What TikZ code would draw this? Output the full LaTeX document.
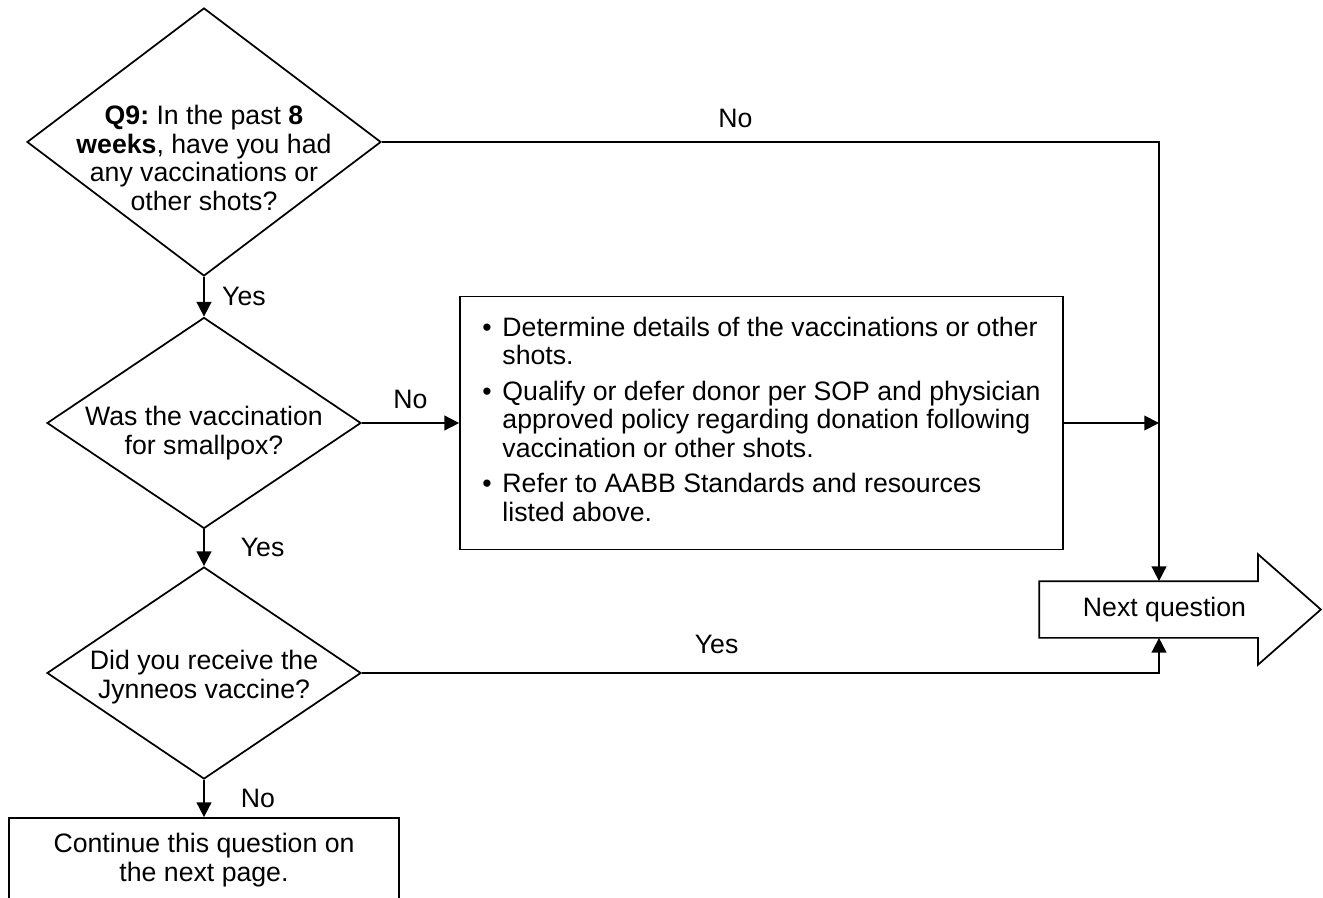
\documentclass[tikz,border=0pt]{standalone}
\usepackage{fontspec}
\setmainfont{Liberation Sans}
\usetikzlibrary{shapes.geometric, positioning, arrows.meta, calc}
\frenchspacing

\begin{document}
\begin{tikzpicture}[x=0.75pt, y=-0.75pt,
            font=\fontsize{20}{21.5}\selectfont,
            line width=1.3pt,
            dec/.style={draw, diamond, inner sep=0pt},
            qtxt/.style={align=center, inner sep=0pt},
            lbl/.style={inner sep=2pt},
            flow/.style={-{Triangle[length=11pt,width=11pt]}}]
            \useasboundingbox (0,0) rectangle (1323,898);
            \clip (0,0) rectangle (1323,898);
            \node[dec, minimum width=265.5pt, minimum height=201pt,
                label={[qtxt, yshift=-12pt]center:{\textbf{Q9:} In the past \textbf{8}\\\textbf{weeks}, have you had\\any vaccinations or\\other shots?}}] (q9) at (204,142) {};
            \node[dec, minimum width=235.5pt, minimum height=158.25pt,
                label={[qtxt, yshift=-7.5pt]center:{Was the vaccination\\for smallpox?}}] (smallpox) at (204,423) {};
            \node[dec, minimum width=235.5pt, minimum height=159pt,
                label={[qtxt, yshift=-3pt]center:{Did you receive the\\Jynneos vaccine?}}] (jynneos) at (204,673) {};
            \node[draw, minimum width=452.25pt, minimum height=189.75pt, inner sep=0pt] (info) at (761.5,423) {%
                \begin{tabular}{@{}c@{\hspace{8pt}}l@{}}
                    \textbullet & Determine details of the vaccinations or other \\
                                & shots. \\[5pt]
                    \textbullet & Qualify or defer donor per SOP and physician \\
                                & approved policy regarding donation following \\
                                & vaccination or other shots. \\[5pt]
                    \textbullet & Refer to AABB Standards and resources \\
                                & listed above.
                \end{tabular}};
            \node[minimum width=162.75pt, minimum height=41.25pt, inner sep=0pt] (nq) at (1148.5,609.5) {\hspace*{24pt}Next question};
            \node[draw, minimum width=292.5pt, minimum height=63pt, align=center] (cont) at (204,860) {Continue this question on\\the next page.};
            \coordinate (rail) at (1159,142);

            \draw (nq.north west) -- (nq.north east) -- ++(0,-27) -- ($(nq.east)+(63,0)$)
                -- ($(nq.south east)+(0,27)$) -- (nq.south east) -- (nq.south west) -- cycle;

            \draw[flow] (q9.south) -- node[lbl, right, xshift=11pt] {Yes} (smallpox.north);
            \draw[flow] (q9.east) -- node[lbl, above, pos=0.455, yshift=8pt] {No} (rail) -- (rail |- nq.north);
            \draw[flow] (smallpox.east) -- node[lbl, above, yshift=8pt] {No} (info.west);
            \draw[flow] (info.east) -- (info.east -| rail);
            \draw[flow] (smallpox.south) -- node[lbl, right, xshift=25pt] {Yes} (jynneos.north);
            \draw[flow] (jynneos.east) -- node[lbl, above, pos=0.445, yshift=12pt] {Yes} (jynneos.east -| rail) -- (rail |- nq.south);
            \draw[flow] (jynneos.south) -- node[lbl, right, xshift=25pt] {No} (cont.north);
\end{tikzpicture}
\end{document}
